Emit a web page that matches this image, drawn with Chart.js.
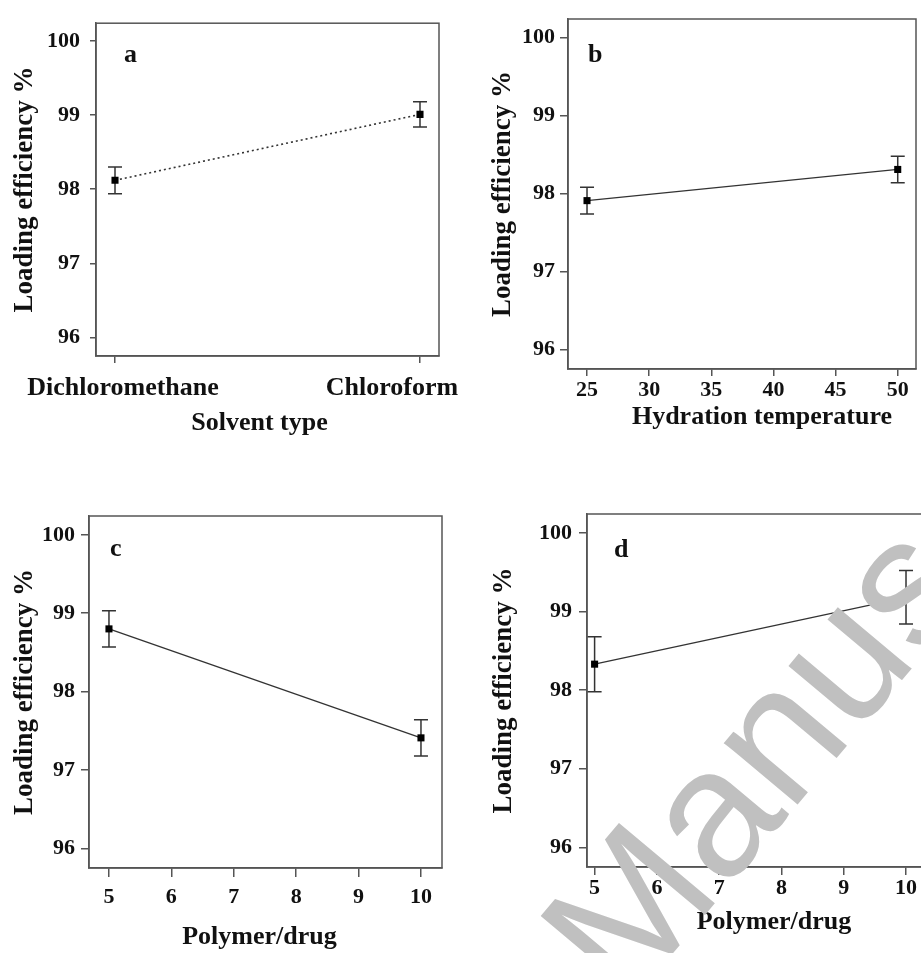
<!DOCTYPE html>
<html>
<head>
<meta charset="utf-8">
<script src="https://cdn.jsdelivr.net/npm/chart.js@4.4.0/dist/chart.umd.min.js"></script>
<style>
  html, body { margin: 0; padding: 0; background: #fff; }
  #page { position: relative; width: 921px; height: 953px; overflow: hidden; background: #fff; }
  #page canvas { position: absolute; }
  #mark { position: absolute; left: 0; top: 0; pointer-events: none; }
</style>
</head>
<body>
<div id="page">
  <canvas id="chartA" width="470" height="470" style="left:0;top:0"></canvas>
  <canvas id="chartB" width="461" height="470" style="left:460px;top:0"></canvas>
  <canvas id="chartC" width="470" height="483" style="left:0;top:470px"></canvas>
  <canvas id="chartD" width="480" height="483" style="left:460px;top:470px"></canvas>
  <svg id="mark" width="921" height="953">
    <g transform="rotate(-50 627 1008)" font-family="Liberation Sans, Arial, sans-serif" font-size="182" fill="#c0c0c0">
      <text x="577" y="1008" text-anchor="end">Accepted</text>
      <text x="627" y="1008">Manuscript</text>
    </g>
  </svg>
</div>
<script>
// loading efficiency (%) vs each factor, mean and error half-width
const loadingTicks = [96, 97, 98, 99, 100];

const solventTypes = ['Dichloromethane', 'Chloroform'];
const solventLoading = [98.12, 99.01];
const solventError = [0.18, 0.17];

const hydrationTemps = [25, 50];
const hydrationLoading = [97.91, 98.31];
const hydrationError = [0.17, 0.17];
const hydrationTicks = [25, 30, 35, 40, 45, 50];

const ratioLevels = [5, 10];
const ratioLoadingC = [98.80, 97.41];
const ratioErrorC = [0.23, 0.23];
const ratioLoadingD = [98.33, 99.18];
const ratioErrorD = [0.35, 0.34];
const ratioTicks = [5, 6, 7, 8, 9, 10];

const INK = '#111';
const AXIS = '#555';
const SERIF = '"Liberation Serif", "Times New Roman", serif';

// box around the plotting area
const frame = {
  id: 'frame',
  beforeDatasetsDraw(chart) {
    const { ctx, chartArea: a } = chart;
    ctx.save();
    ctx.strokeStyle = AXIS;
    ctx.lineWidth = 1.5;
    ctx.strokeRect(a.left, a.top, a.right - a.left, a.bottom - a.top);
    ctx.restore();
  }
};

// vertical error bars with caps
const errorBars = {
  id: 'errorBars',
  beforeDatasetsDraw(chart, args, o) {
    const { ctx, scales: { x, y } } = chart;
    const pts = chart.data.datasets[0].data;
    ctx.save();
    ctx.strokeStyle = '#333';
    ctx.lineWidth = 1.5;
    pts.forEach((p, i) => {
      const px = x.getPixelForValue(p.x);
      const hi = y.getPixelForValue(p.y + o.values[i]);
      const lo = y.getPixelForValue(p.y - o.values[i]);
      ctx.beginPath();
      ctx.moveTo(px, hi); ctx.lineTo(px, lo);
      ctx.moveTo(px - 7, hi); ctx.lineTo(px + 7, hi);
      ctx.moveTo(px - 7, lo); ctx.lineTo(px + 7, lo);
      ctx.stroke();
    });
    ctx.restore();
  }
};

// panel letter, x-axis title and (for panel a) category names
const captions = {
  id: 'captions',
  afterDraw(chart, args, o) {
    const { ctx, chartArea: a } = chart;
    ctx.save();
    ctx.fillStyle = INK;
    ctx.textBaseline = 'alphabetic';
    ctx.font = 'bold 26px ' + SERIF;
    ctx.textAlign = 'left';
    ctx.fillText(o.letter, a.left + o.letterAt[0], a.top + o.letterAt[1]);
    ctx.textAlign = 'center';
    ctx.fillText(o.title, (a.left + a.right) / 2 + o.titleAt[0], a.bottom + o.titleAt[1]);
    if (o.categories) {
      const xs = chart.scales.x;
      o.categories.forEach((c, i) => {
        ctx.fillText(c, xs.getPixelForValue(i) + o.categoryShift[i], a.bottom + o.categoryY);
      });
    }
    ctx.restore();
  }
};

function makePanel(id, o) {
  const axisGrid = (len) => ({
    drawOnChartArea: false, drawTicks: true, tickLength: len, color: AXIS, lineWidth: 1.5
  });
  return new Chart(document.getElementById(id), {
    type: 'line',
    data: {
      datasets: [{
        data: o.xs.map((v, i) => ({ x: v, y: o.ys[i] })),
        borderColor: '#333',
        borderWidth: o.dash ? 1.6 : 1.3,
        borderDash: o.dash || [],
        tension: 0,
        pointStyle: 'rect',
        pointRadius: 5,
        pointBackgroundColor: '#000',
        pointBorderWidth: 0
      }]
    },
    options: {
      responsive: false,
      animation: false,
      events: [],
      layout: { padding: { left: 0, top: o.top, right: o.right, bottom: 0 } },
      plugins: {
        legend: { display: false },
        tooltip: { enabled: false },
        errorBars: { values: o.err },
        captions: o.captions
      },
      scales: {
        x: {
          type: 'linear',
          min: o.xMin, max: o.xMax,
          afterBuildTicks: s => { s.ticks = o.xTicks.map(v => ({ value: v })); },
          afterFit: s => { s.height = o.xHeight; },
          grid: axisGrid(o.xTick),
          border: { display: true, color: AXIS, width: 1.5 },
          ticks: {
            display: !o.captions.categories,
            padding: o.xPad,
            maxRotation: 0,
            color: INK,
            font: { family: SERIF, size: 22, weight: 'bold' }
          }
        },
        y: {
          type: 'linear',
          min: 95.75, max: 100.24,
          afterBuildTicks: s => { s.ticks = loadingTicks.map(v => ({ value: v })); },
          afterFit: s => { s.width = o.yWidth; },
          grid: axisGrid(o.yTick),
          border: { display: true, color: AXIS, width: 1.5 },
          ticks: {
            padding: o.yPad,
            color: INK,
            font: { family: SERIF, size: 22, weight: 'bold' }
          },
          title: {
            display: true,
            text: 'Loading efficiency %',
            color: INK,
            padding: { top: o.yTitlePad, bottom: 0 },
            font: { family: SERIF, size: 27, weight: 'bold' }
          }
        }
      }
    },
    plugins: [frame, errorBars, captions]
  });
}

makePanel('chartA', {
  xs: solventTypes.map((_, i) => i), ys: solventLoading, err: solventError,
  dash: [2, 3],
  xMin: -0.0623, xMax: 1.0623, xTicks: solventTypes.map((_, i) => i),
  top: 14, right: 31, yWidth: 96, xHeight: 114,
  xTick: 7, xPad: 4, yTick: 6, yPad: 10, yTitlePad: 9,
  captions: {
    letter: 'a', letterAt: [28, 39],
    title: 'Solvent type', titleAt: [-8, 74],
    categories: solventTypes, categoryShift: [8, -28], categoryY: 39
  }
});

makePanel('chartB', {
  xs: hydrationTemps, ys: hydrationLoading, err: hydrationError,
  xMin: 23.47, xMax: 51.47, xTicks: hydrationTicks,
  top: 19, right: 5, yWidth: 108, xHeight: 101,
  xTick: 7, xPad: 1, yTick: 8, yPad: 5, yTitlePad: 27,
  captions: { letter: 'b', letterAt: [20, 43], title: 'Hydration temperature', titleAt: [20, 55] }
});

makePanel('chartC', {
  xs: ratioLevels, ys: ratioLoadingC, err: ratioErrorC,
  xMin: 4.68, xMax: 10.337, xTicks: ratioTicks,
  top: 46, right: 28, yWidth: 89, xHeight: 85,
  xTick: 9, xPad: 7, yTick: 8, yPad: 6, yTitlePad: 9,
  captions: { letter: 'c', letterAt: [21, 40], title: 'Polymer/drug', titleAt: [-6, 76] }
});

makePanel('chartD', {
  xs: ratioLevels, ys: ratioLoadingD, err: ratioErrorD,
  xMin: 4.878, xMax: 10.337, xTicks: ratioTicks,
  top: 44, right: 13, yWidth: 127, xHeight: 86,
  xTick: 8, xPad: 0, yTick: 8, yPad: 7, yTitlePad: 28,
  captions: { letter: 'd', letterAt: [27, 43], title: 'Polymer/drug', titleAt: [17, 62] }
});
</script>
</body>
</html>
